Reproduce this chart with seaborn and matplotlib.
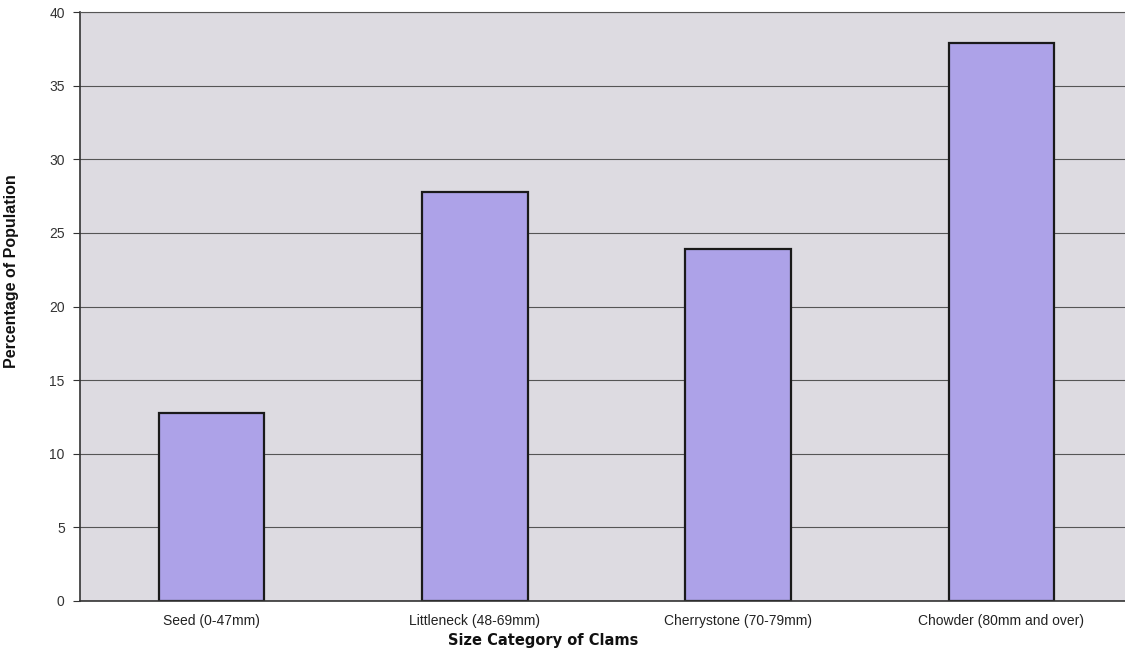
import matplotlib
matplotlib.use("Agg")
import matplotlib.pyplot as plt
import seaborn as sns
import pandas as pd

categories = ["Seed (0-47mm)", "Littleneck (48-69mm)", "Cherrystone (70-79mm)", "Chowder (80mm and over)"]
values = [12.8, 27.8, 23.9, 37.9]
yticks = [0, 5, 10, 15, 20, 25, 30, 35, 40]

sns.set_style("white")
plt.rcParams['font.family'] = ['Liberation Sans', 'DejaVu Sans']

df = pd.DataFrame({"cat": categories, "val": values})

fig = plt.figure(figsize=(11.25, 6.56), dpi=100)
ax = fig.add_axes([80/1125, 55/656, 1053/1125, 589/656])
ax.set_facecolor("#dddbe1")

sns.barplot(data=df, x="cat", y="val", ax=ax, color="#ada2e8", saturation=1,
            width=0.4, edgecolor="#1a1a1a", linewidth=1.6)

ax.set_xlim(-0.5, 3.5)
ax.set_ylim(0, 40)
ax.set_yticks(yticks)
ax.set_yticklabels([str(t) for t in yticks], fontsize=10, color="#333333")
ax.yaxis.grid(True, color="#555555", linewidth=0.8)
ax.set_axisbelow(True)

ax.set_xticks(range(len(categories)))
ax.set_xticklabels(categories, fontsize=10, color="#222222")
ax.set_xticks([0.5, 1.5, 2.5], minor=True)
ax.tick_params(axis="x", which="major", length=0, pad=9)
ax.tick_params(axis="x", which="minor", length=4, color="#333333", direction="out")
ax.tick_params(axis="y", length=5, color="#333333", direction="out", pad=6, left=True)

for s in ["left", "bottom", "top"]:
    ax.spines[s].set_color("#333333")
    ax.spines[s].set_linewidth(1.2)
ax.spines["top"].set_linewidth(0.8)
ax.spines["top"].set_color("#555555")
ax.spines["right"].set_visible(False)

ax.set_xlabel("Size Category of Clams", fontsize=10.5, fontweight="heavy",
              family=["DejaVu Sans"], color="#111111")
ax.xaxis.set_label_coords(0.44, -0.055)
ax.set_ylabel("Percentage of Population", fontsize=11.5, fontweight="bold", color="#111111")
ax.yaxis.set_label_coords(-0.058, 0.56)

fig.savefig("out.png", dpi=100, facecolor="white")
